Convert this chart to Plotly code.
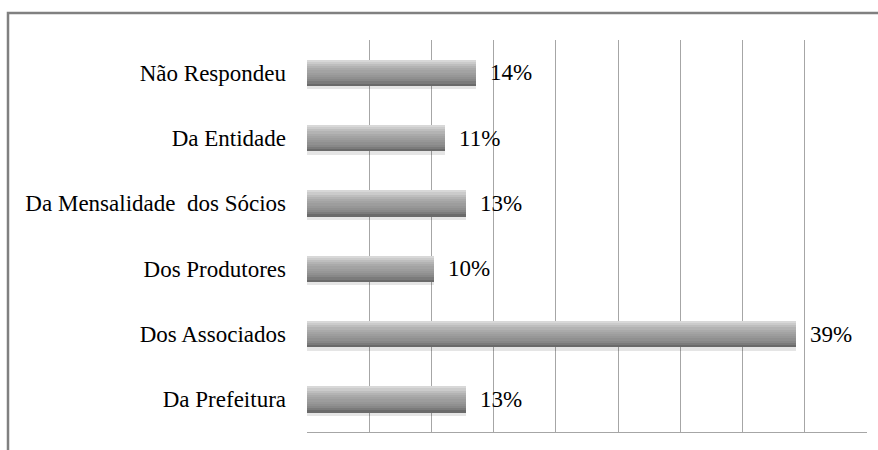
import plotly.graph_objects as go

categories = ["Não Respondeu", "Da Entidade", "Da Mensalidade\u00a0 dos Sócios",
              "Dos Produtores", "Dos Associados", "Da Prefeitura"]
values = [0.136, 0.111, 0.128, 0.102, 0.393, 0.128]
x_ticks = [0, 0.05, 0.10, 0.15, 0.20, 0.25, 0.30, 0.35, 0.40, 0.45]

SERIF = "Times New Roman"

# vertical gradient of the cylinder-like bars (top -> bottom)
strip_colors = ["#d8d8d8", "#cbcbcb", "#bebebe", "#b3b3b3", "#aaaaaa", "#a3a3a3",
                "#9d9d9d", "#979797", "#909090", "#888888", "#7b7b7b", "#6a6a6a"]
bar_w = 0.40
n = len(strip_colors)
sw = bar_w / n

fig = go.Figure()

# soft shadow below the bars
fig.add_trace(go.Bar(
    x=values, y=categories, orientation="h",
    width=0.06, offset=bar_w / 2 - 0.005,
    marker=dict(color="rgba(0,0,0,0.10)", line=dict(width=0)),
    hoverinfo="skip", showlegend=False))

for i, c in enumerate(strip_colors):
    fig.add_trace(go.Bar(
        x=values, y=categories, orientation="h",
        width=sw + 0.003, offset=-bar_w / 2 + i * sw,
        marker=dict(color=c, line=dict(width=0)),
        hoverinfo="skip", showlegend=False))

for cat, v in zip(categories, values):
    fig.add_annotation(
        x=v, y=cat, xref="x", yref="y", text=f"{round(v*100):d}%",
        showarrow=False, xanchor="left", yanchor="middle", xshift=12,
        font=dict(family=SERIF, size=23, color="black"))

W, H = 878, 450
ml, mr, mt, mb = 307, 11, 40, 18
pw, ph = W - ml - mr, H - mt - mb

def px(xp):
    return (xp - ml) / pw

def py(yp):
    return (H - mb - yp) / ph

fig.add_shape(type="rect", xref="paper", yref="paper",
              x0=px(8), x1=px(890), y0=py(13), y1=py(470),
              line=dict(color="#808080", width=2.5), layer="below")

fig.update_layout(
    width=W, height=H,
    margin=dict(l=ml, r=mr, t=mt, b=mb),
    paper_bgcolor="white", plot_bgcolor="white",
    barmode="overlay", bargap=0,
    showlegend=False,
    font=dict(family=SERIF, color="black"),
    xaxis=dict(range=[0, 0.45], tickmode="array", tickvals=x_ticks,
               showticklabels=False, showgrid=True, gridcolor="#a6a6a6",
               gridwidth=1, zeroline=False, showline=True,
               linecolor="#a6a6a6", linewidth=1, ticks=""),
    yaxis=dict(autorange="reversed", showgrid=False, zeroline=False,
               showline=False, ticks="", ticklabelstandoff=20,
               tickfont=dict(family=SERIF, size=23, color="black")),
)

fig.write_html("out.html", config={"displayModeBar": False},
               post_script="document.body.style.margin='0';document.body.style.padding='0';")
